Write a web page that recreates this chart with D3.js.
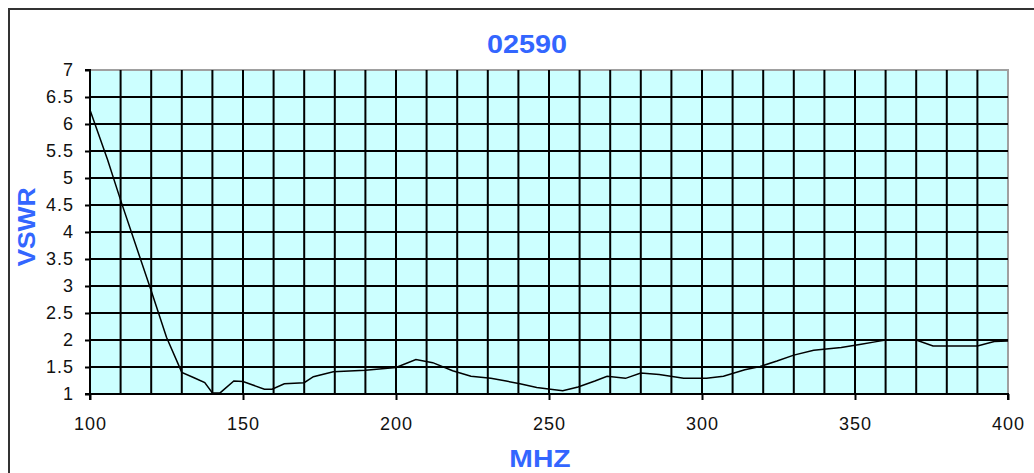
<!DOCTYPE html>
<html>
<head>
<meta charset="utf-8">
<script src="https://cdn.jsdelivr.net/npm/d3@7"></script>
<style>
  body { margin: 0; background: #fff; }
  text { font-family: Arial, "Liberation Sans", sans-serif; }
</style>
</head>
<body>
<svg id="chart" width="1034" height="473"></svg>
<script>
// MHz readings and VSWR values
var freq = [100, 105.8, 110, 120, 125, 130, 134, 137.5, 140, 142.5, 147, 150, 152.5, 157, 159.5, 163.5,
            170, 173, 179.5, 190, 200, 206.5, 212, 218.5, 224.5, 231, 236, 240.5, 246, 250.5, 254.5,
            259.5, 265, 269, 275, 280, 286, 294, 301.5, 307, 314, 319, 324.5, 330, 336.5, 345.5,
            352, 357, 360, 370, 375.5, 390, 395.5, 400]
var vswr = [6.26, 5.33, 4.59, 2.91, 2.05, 1.40, 1.30, 1.21, 1.02, 1.02, 1.24, 1.23, 1.18, 1.09, 1.09, 1.19,
            1.21, 1.32, 1.41, 1.44, 1.49, 1.64, 1.58, 1.43, 1.33, 1.29, 1.24, 1.19, 1.12, 1.09, 1.06,
            1.13, 1.24, 1.33, 1.29, 1.39, 1.36, 1.29, 1.29, 1.33, 1.45, 1.51, 1.61, 1.72, 1.81, 1.86,
            1.92, 1.97, 2.0, 2.0, 1.89, 1.89, 1.97, 1.98]

var xTicks = [100, 150, 200, 250, 300, 350, 400]
var xGrid = d3.range(100, 401, 10)
var yTicks = [1, 1.5, 2, 2.5, 3, 3.5, 4, 4.5, 5, 5.5, 6, 6.5, 7]
var title = '02590'
var xTitle = 'MHZ'
var yTitle = 'VSWR'

function drawChart() {
  var points = freq.map(function (f, i) { return { f: f, v: vswr[i] } })

  var pLeft = 90, pRight = 1008, pTop = 70, pBottom = 394
  var x_scale = d3.scaleLinear().domain([100, 400]).range([pLeft, pRight])
  var y_scale = d3.scaleLinear().domain([1, 7]).range([pBottom, pTop])

  var svg = d3.select('#chart')

  // outer chart frame (runs off the right and bottom edge)
  svg.append('rect').attr('x', 9).attr('y', 9).attr('width', 1060).attr('height', 500)
    .attr('fill', '#fff').attr('stroke', '#333').attr('stroke-width', 2)

  // plot area
  svg.append('rect').attr('x', pLeft).attr('y', pTop).attr('width', pRight - pLeft).attr('height', pBottom - pTop)
    .attr('fill', '#ccffff').attr('stroke', '#a0a0a0').attr('stroke-width', 2)

  // grid lines
  svg.append('g').selectAll('line').data(xGrid.slice(1, -1)).join('line')
    .attr('x1', d => x_scale(d)).attr('x2', d => x_scale(d))
    .attr('y1', pTop).attr('y2', pBottom)
    .attr('stroke', '#000').attr('stroke-width', 2)

  svg.append('g').selectAll('line').data(yTicks.slice(1, -1)).join('line')
    .attr('x1', pLeft).attr('x2', pRight)
    .attr('y1', d => y_scale(d)).attr('y2', d => y_scale(d))
    .attr('stroke', '#000').attr('stroke-width', 2)

  // axes
  var xAxis = d3.axisBottom(x_scale).tickValues(xTicks).tickSize(6).tickPadding(17).tickFormat(d3.format('d'))
  var yAxis = d3.axisLeft(y_scale).tickValues(yTicks).tickSize(5).tickPadding(11).tickFormat(d => d)

  var gx = svg.append('g').attr('transform', 'translate(0,' + pBottom + ')').call(xAxis)
  var gy = svg.append('g').attr('transform', 'translate(' + pLeft + ',0)').call(yAxis)

  ;[gx, gy].forEach(function (g) {
    g.attr('font-size', 18).attr('font-family', 'Arial, "Liberation Sans", sans-serif')
    g.select('.domain').attr('stroke', '#000').attr('stroke-width', 2)
    g.selectAll('.tick line').attr('stroke', '#000').attr('stroke-width', 2)
    g.selectAll('.tick text').attr('fill', '#111').style('letter-spacing', '1px')
  })
  gx.select('.domain').attr('d', 'M' + pLeft + ',6V0H' + pRight + 'V6')
  gy.select('.domain').attr('d', 'M-5,' + pTop + 'H0V' + pBottom + 'H-5')

  // data line
  var line = d3.line().x(d => x_scale(d.f)).y(d => y_scale(d.v))
  svg.append('path').datum(points).attr('d', line)
    .attr('fill', 'none').attr('stroke', '#000').attr('stroke-width', 1.5)

  // titles (the original text is drawn a little wide)
  svg.append('text').attr('transform', 'translate(527,53) scale(1.15,1)').attr('text-anchor', 'middle')
    .attr('fill', '#3366ff').style('font-size', '25px').style('font-weight', 'bold').text(title)

  svg.append('text').attr('transform', 'translate(540,467) scale(1.18,1)').attr('text-anchor', 'middle')
    .attr('fill', '#3366ff').style('font-size', '24px').style('font-weight', 'bold').text(xTitle)

  svg.append('text').attr('transform', 'translate(35,227) rotate(-90) scale(1.1,1)').attr('text-anchor', 'middle')
    .attr('fill', '#3366ff').style('font-size', '24px').style('font-weight', 'bold').text(yTitle)
}

drawChart()
</script>
</body>
</html>
